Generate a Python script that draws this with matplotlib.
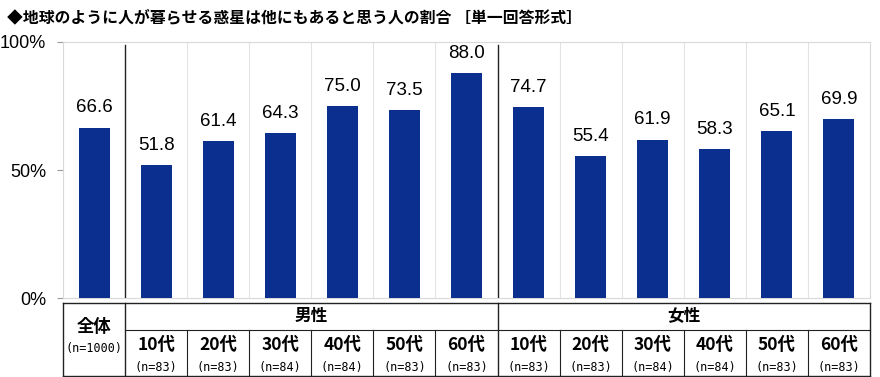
import matplotlib
matplotlib.use("Agg")
from matplotlib import pyplot as plt

plt.rcParams['font.family'] = ['Liberation Sans', 'Noto Sans CJK JP', 'DejaVu Sans']

title = "◆地球のように人が暮らせる惑星は他にもあると思う人の割合 ［単一回答形式］"
values = [66.6, 51.8, 61.4, 64.3, 75.0, 73.5, 88.0, 74.7, 55.4, 61.9, 58.3, 65.1, 69.9]
ages = ["10代", "20代", "30代", "40代", "50代", "60代"]
male_n = [83, 83, 84, 84, 83, 83]
female_n = [83, 83, 84, 84, 83, 83]
total_n = 1000
groups = ["男性", "女性"]

bar_color = "#0a2f8f"
jp = ['Noto Sans CJK JP', 'DejaVu Sans']
mono = ['DejaVu Sans Mono']

fig = plt.figure(figsize=(8.8, 3.77), dpi=100)
ax = fig.add_axes([0.0716, 0.2095, 0.9170, 0.6791])

x = list(range(len(values)))
ax.bar(x, values, width=0.5, color=bar_color, zorder=3)
for xi, v in zip(x, values):
    ax.annotate(f"{v:.1f}", (xi, v), xytext=(0, 8), textcoords="offset points",
                ha="center", va="bottom", fontsize=13.5, color="black")

ax.set_xlim(-0.5, len(values) - 0.5)
ax.set_ylim(0, 100)
ax.set_yticks([0, 50, 100])
ax.set_yticklabels(["0%", "50%", "100%"], fontsize=13)
ax.set_xticks([])
ax.tick_params(axis="y", length=4, color="#999999", pad=8)
for s in ax.spines.values():
    s.set_color("#d9d9d9")
    s.set_linewidth(0.8)

# column separators
for b in range(1, len(values)):
    if b in (1, 7):
        ax.axvline(b - 0.5, color="#222222", lw=1.0, ymax=0.99, zorder=4)
    else:
        ax.axvline(b - 0.5, color="#e3e3e3", lw=0.8, zorder=1)

fig.text(0.008, 0.955, title, fontsize=11.4, fontweight="bold", family=jp,
         ha="left", va="center")

# table below the chart
tb = fig.add_axes([0.0716, 0.003, 0.9170, 0.193])
tb.set_xlim(-0.5, len(values) - 0.5)
tb.set_ylim(0, 1)
tb.axis("off")
lc = "#222222"
lw = 1.0
tb.plot([-0.5, 12.5], [1, 1], color=lc, lw=lw, clip_on=False)
tb.plot([-0.5, 12.5], [0, 0], color=lc, lw=lw, clip_on=False)
tb.plot([0.5, 12.5], [0.63, 0.63], color=lc, lw=0.8, clip_on=False)
for xv in [-0.5, 0.5, 6.5, 12.5]:
    tb.plot([xv, xv], [0, 1], color=lc, lw=lw, clip_on=False)
for xv in [1.5, 2.5, 3.5, 4.5, 5.5, 7.5, 8.5, 9.5, 10.5, 11.5]:
    tb.plot([xv, xv], [0, 0.63], color=lc, lw=0.8, clip_on=False)

tb.text(0, 0.67, "全体", ha="center", va="center", fontsize=12.5,
        fontweight="bold", family=jp)
tb.text(0, 0.37, f"(n={total_n})", ha="center", va="center", fontsize=8.5,
        family=mono)
tb.text(3.5, 0.82, groups[0], ha="center", va="center", fontsize=12,
        fontweight="bold", family=jp)
tb.text(9.5, 0.82, groups[1], ha="center", va="center", fontsize=12,
        fontweight="bold", family=jp)
for gi, ns in enumerate([male_n, female_n]):
    for i, (a, n) in enumerate(zip(ages, ns)):
        xc = 1 + gi * 6 + i
        tb.text(xc, 0.42, a, ha="center", va="center", fontsize=12.5,
                fontweight="bold", family=jp)
        tb.text(xc, 0.12, f"(n={n})", ha="center", va="center", fontsize=8.5,
                family=mono)

fig.savefig("out.png", dpi=100)
